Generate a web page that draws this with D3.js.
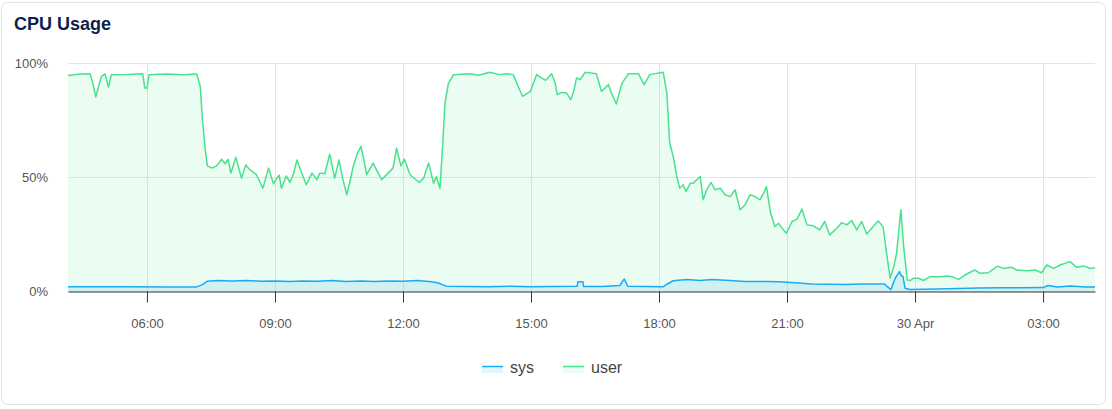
<!DOCTYPE html>
<html><head><meta charset="utf-8">
<script src="https://cdn.jsdelivr.net/npm/d3@7"></script>
<style>
body{margin:0;background:#fff;font-family:"Liberation Sans",Arial,sans-serif}
</style>
</head><body>
<svg id="chart" width="1112" height="409"></svg>
<script>
// ---- data (CPU %) ----
const userPoints = [
["04:09",94.5],["04:26",95.2],["04:40",95.3],["04:44",91.2],["04:48",85.1],["04:52",89.7],["04:56",94.1],
["05:01",95.2],["05:06",89.5],["05:10",94.9],["05:31",95.0],["05:54",95.3],["05:57",89.0],["06:00",89.0],
["06:03",94.9],["06:28",95.2],["06:51",94.9],["07:10",95.2],["07:15",89.7],["07:18",75.1],["07:22",61.9],
["07:25",54.9],["07:31",53.9],["07:38",54.9],["07:45",57.8],["07:50",55.8],["07:54",57.8],["07:58",51.7],
["08:05",58.6],["08:13",49.5],["08:19",55.3],["08:25",53.1],["08:34",51.0],["08:43",45.1],["08:51",53.9],
["08:58",47.0],["09:01",48.8],["09:06",50.8],["09:09",45.1],["09:16",50.5],["09:21",47.6],["09:26",51.4],
["09:31",57.5],["09:36",53.1],["09:44",46.6],["09:52",51.7],["09:59",48.8],["10:03",51.7],["10:10",51.4],
["10:17",60.0],["10:24",49.5],["10:30",57.5],["10:35",49.5],["10:41",42.2],["10:46",48.8],["10:50",54.6],
["10:56",60.5],["11:01",63.4],["11:05",57.5],["11:09",51.0],["11:18",56.1],["11:30",48.8],["11:39",51.7],
["11:46",53.9],["11:51",62.7],["11:57",54.9],["12:02",57.8],["12:10",51.0],["12:23",47.6],["12:29",49.5],
["12:36",56.1],["12:43",47.3],["12:47",50.2],["12:52",45.1],["12:56",64.9],["12:59",82.4],["13:04",91.2],
["13:11",94.9],["13:34",95.3],["13:46",94.6],["14:02",95.9],["14:16",94.9],["14:26",95.3],["14:35",94.9],
["14:42",89.7],["14:48",85.4],["14:59",87.6],["15:08",94.9],["15:15",93.4],["15:21",92.4],["15:29",95.3],
["15:34",91.2],["15:37",86.1],["15:43",87.1],["15:50",86.8],["15:56",83.9],["16:00",87.6],["16:04",93.4],
["16:09",92.7],["16:16",95.9],["16:32",95.3],["16:39",87.6],["16:44",89.0],["16:49",90.5],["16:53",86.8],
["17:00",82.0],["17:08",91.2],["17:17",95.3],["17:31",95.3],["17:39",90.5],["17:47",94.9],["18:06",95.9],
["18:11",86.8],["18:15",64.9],["18:20",59.0],["18:25",50.2],["18:29",45.1],["18:34",46.6],["18:38",43.6],
["18:44",47.3],["18:48",47.3],["18:53",48.8],["18:58",50.2],["19:02",40.0],["19:07",44.4],["19:13",47.6],
["19:19",44.4],["19:26",45.1],["19:33",42.2],["19:40",41.4],["19:47",44.4],["19:54",35.6],["20:01",37.8],
["20:08",42.2],["20:15",41.4],["20:22",40.0],["20:27",42.9],["20:31",45.8],["20:37",34.1],["20:43",28.3],
["20:48",29.7],["20:55",26.8],["20:59",25.3],["21:07",30.5],["21:14",31.5],["21:21",35.9],["21:28",29.0],
["21:37",28.6],["21:46",26.8],["21:53",30.5],["22:00",24.6],["22:10",27.5],["22:17",30.0],["22:24",29.0],
["22:31",30.9],["22:38",26.8],["22:45",30.5],["22:52",25.0],["22:59",27.5],["23:08",30.7],["23:15",28.3],
["23:20",16.5],["23:25",5.6],["23:30",10.7],["23:34",16.5],["23:37",26.1],["23:40",35.6],["23:44",19.5],
["23:49",4.8],["23:53",4.6],["23:58",5.6],["00:05",5.6],["00:12",4.6],["00:21",6.3],["00:35",6.3],
["00:45",6.6],["00:52",6.3],["01:01",5.1],["01:10",7.0],["01:24",9.2],["01:31",7.8],["01:43",8.0],
["01:56",10.9],["02:04",9.9],["02:16",10.4],["02:23",9.2],["02:37",8.9],["02:49",9.2],["02:58",8.0],
["03:05",11.4],["03:15",9.9],["03:24",11.4],["03:38",12.9],["03:47",10.4],["03:57",11.0],["04:06",9.9],
["04:13",10.2]
];
const sysPoints = [
["04:09",1.9],["05:30",1.9],["06:30",1.8],["07:10",1.8],["07:18",2.8],["07:25",4.3],["07:40",4.6],
["08:00",4.4],["08:20",4.6],["08:40",4.3],["09:00",4.4],["09:20",4.2],["09:40",4.4],["10:00",4.3],
["10:20",4.6],["10:40",4.2],["11:00",4.4],["11:20",4.2],["11:40",4.4],["12:00",4.3],["12:20",4.6],
["12:40",4.1],["12:50",3.5],["12:57",2.6],["13:01",2.1],["13:30",2.0],["14:00",1.9],["14:30",2.1],
["15:00",1.9],["15:30",2.0],["16:05",2.1],["16:06",4.1],["16:13",4.1],["16:14",2.0],["16:40",2.0],
["17:05",2.4],["17:11",5.3],["17:16",2.1],["17:40",2.0],["18:06",1.9],["18:13",3.3],["18:20",4.5],
["18:39",5.0],["18:58",4.6],["19:14",5.0],["19:40",4.6],["20:01",4.2],["20:30",4.2],["20:48",4.1],
["21:11",3.6],["21:35",3.1],["22:00",3.0],["22:22",2.9],["22:45",3.1],["23:08",3.1],["23:17",3.1],
["23:21",1.9],["23:26",0.6],["23:32",5.6],["23:36",7.5],["23:38",8.5],["23:40",7.0],["23:43",6.3],
["23:46",1.2],["23:53",0.7],["00:30",0.9],["01:00",1.1],["01:30",1.3],["02:00",1.4],["02:30",1.4],
["03:00",1.5],["03:07",2.4],["03:20",1.8],["03:38",2.2],["04:00",1.8],["04:13",1.8]
];
const yTickValues = [0, 50, 100];
const seriesNames = ["sys", "user"];
const chartTitle = "CPU Usage";

// ---- helpers ----
function parseSeries(points){
  let day = 0, prev = -1;
  return points.map(([t, v]) => {
    const [h, m] = t.split(":").map(Number);
    let mins = h * 60 + m + day * 1440;
    if (mins < prev) { day++; mins += 1440; }
    prev = mins;
    return { date: new Date(2024, 3, 29, 0, mins), value: v };
  });
}
const user = parseSeries(userPoints);
const sys = parseSeries(sysPoints);

const colors = { sys: "#1eaaf1", user: "#47e28c" };
const fills = { sys: "rgba(30,170,241,0.13)", user: "rgba(71,226,140,0.11)" };

const svg = d3.select("#chart");
const W = 1112, H = 409;
const plot = { left: 68, right: 1095, top: 63, bottom: 291 };

// card
svg.append("rect").attr("x", 1.5).attr("y", 2.5).attr("width", 1104).attr("height", 402)
  .attr("rx", 6).attr("fill", "#fff").attr("stroke", "#dde3ec");

svg.append("text").attr("x", 14).attr("y", 29.5).text(chartTitle)
  .attr("font-size", 18).attr("font-weight", "bold").attr("fill", "#0c1f4f");

const x = d3.scaleTime()
  .domain(d3.extent(user.concat(sys), d => d.date))
  .range([plot.left, plot.right]);
const y = d3.scaleLinear().domain([0, 100]).range([plot.bottom, plot.top]);

const xTicks = x.ticks(d3.timeHour.every(3));
const fmtHM = d3.timeFormat("%H:%M"), fmtDay = d3.timeFormat("%d %b");
const tickFmt = d => (d.getHours() === 0 && d.getMinutes() === 0) ? fmtDay(d) : fmtHM(d);

// gridlines
const grid = svg.append("g").attr("stroke", "#e4e4e4").attr("stroke-width", 1);
yTickValues.forEach(v => {
  grid.append("line").attr("x1", plot.left).attr("x2", plot.right)
    .attr("y1", Math.round(y(v)) + 0.5).attr("y2", Math.round(y(v)) + 0.5);
});
xTicks.forEach(t => {
  grid.append("line").attr("x1", Math.round(x(t)) + 0.5).attr("x2", Math.round(x(t)) + 0.5)
    .attr("y1", y(100)).attr("y2", y(0));
});

// areas + lines
const area = d3.area().x(d => x(d.date)).y0(y(0)).y1(d => y(d.value));
const line = d3.line().x(d => x(d.date)).y(d => y(d.value));
svg.append("path").datum(user).attr("d", area).attr("fill", fills.user);
svg.append("path").datum(sys).attr("d", area).attr("fill", fills.sys);
svg.append("path").datum(user).attr("d", line).attr("fill", "none")
  .attr("stroke", colors.user).attr("stroke-width", 1.5).attr("stroke-linejoin", "round");
svg.append("path").datum(sys).attr("d", line).attr("fill", "none")
  .attr("stroke", colors.sys).attr("stroke-width", 1.5).attr("stroke-linejoin", "round");

// y labels
svg.append("g").selectAll("text").data(yTickValues).join("text")
  .attr("x", 48).attr("y", d => y(d)).attr("dy", "0.35em")
  .attr("text-anchor", "end").attr("font-size", 13).attr("fill", "#555")
  .text(d => d + "%");

// x axis
const xAxis = svg.append("g").attr("transform", `translate(0,${plot.bottom + 0.5})`)
  .call(d3.axisBottom(x).tickValues(xTicks).tickFormat(tickFmt)
    .tickSize(11).tickSizeOuter(0).tickPadding(16));
xAxis.select(".domain").attr("stroke", "#333").attr("stroke-width", 1.2);
xAxis.selectAll(".tick line").attr("stroke", "#333");
xAxis.selectAll(".tick text").attr("font-size", 13).attr("fill", "#555")
  .attr("font-family", "Liberation Sans, Arial, sans-serif");

// legend
const legend = svg.append("g");
const legX = { sys: 482, user: 563 };
seriesNames.forEach(name => {
  const g = legend.append("g").attr("transform", `translate(${legX[name]},366)`);
  g.append("rect").attr("x", 0).attr("y", 0).attr("width", 21).attr("height", 7).attr("fill", fills[name]);
  g.append("line").attr("x1", 0).attr("x2", 21).attr("y1", 0.5).attr("y2", 0.5)
    .attr("stroke", colors[name]).attr("stroke-width", 1.5);
  g.append("text").attr("x", 28).attr("y", 7).text(name)
    .attr("font-size", 16).attr("fill", "#444");
});
</script>
</body></html>
